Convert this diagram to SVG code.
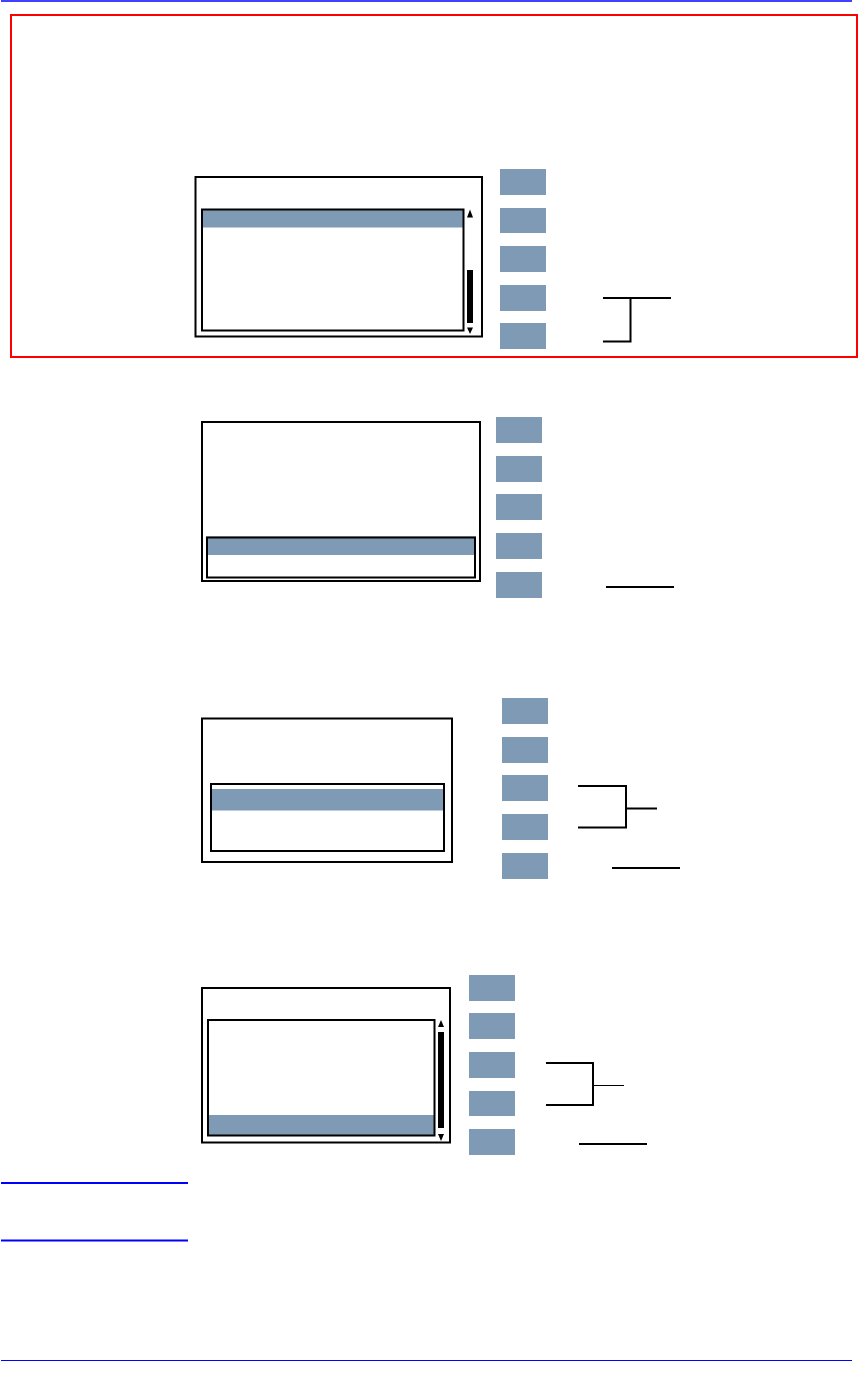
<svg xmlns="http://www.w3.org/2000/svg" width="859" height="1378" viewBox="0 0 859 1378">
<style>
.btn{fill:#7f9ab4}
.hl{fill:#7f9ab4}
.box{fill:none;stroke:#000;stroke-width:2}
.ln{fill:none;stroke:#000;stroke-width:2}
.blue{stroke:#0000ff;fill:none}
</style>
<rect width="859" height="1378" fill="#fff"/>
<line class="blue" x1="1" y1="1" x2="852" y2="1" stroke-width="1.5"/>
<line class="blue" x1="1" y1="1360.5" x2="852" y2="1360.5" stroke-width="1.2"/>
<line class="blue" x1="1" y1="1183" x2="188" y2="1183" stroke-width="1.8"/>
<line class="blue" x1="1" y1="1240.5" x2="188" y2="1240.5" stroke-width="1.8"/>
<rect x="11" y="15" width="846" height="342" fill="none" stroke="#ff0000" stroke-width="2"/>

<g id="screen1">
<rect class="box" x="195.5" y="177" width="286.5" height="159.5"/>
<rect class="hl" x="202" y="209.5" width="261.5" height="18"/>
<rect class="box" x="202" y="209.5" width="261.5" height="121"/>
<polygon points="467,217.5 470,209.5 473,217.5" fill="#000"/>
<rect x="467" y="270" width="6" height="53" fill="#000"/>
<polygon points="467,327.5 470,334 473,327.5" fill="#000"/>
</g>
<g id="buttons1">
<rect class="btn" x="500" y="169" width="46" height="26"/>
<rect class="btn" x="500" y="208" width="46" height="25"/>
<rect class="btn" x="500" y="246" width="46" height="26"/>
<rect class="btn" x="500" y="285" width="46" height="26"/>
<rect class="btn" x="500" y="323" width="46" height="26"/>
</g>

<g id="screen2">
<rect class="box" x="202" y="422" width="278" height="159"/>
<rect class="hl" x="206" y="536.5" width="270" height="18.5"/>
<rect class="box" x="207" y="537.5" width="268" height="40"/>
</g>
<g id="buttons2">
<rect class="btn" x="496" y="417" width="46" height="26"/>
<rect class="btn" x="496" y="456" width="46" height="26"/>
<rect class="btn" x="496" y="494" width="46" height="26"/>
<rect class="btn" x="496" y="533" width="46" height="26"/>
<rect class="btn" x="496" y="572" width="46" height="26"/>
</g>

<g id="screen3">
<rect class="box" x="202" y="718.5" width="250" height="143.5" stroke-width="1.6"/>
<rect class="hl" x="211" y="789" width="232.5" height="21.5"/>
<rect class="box" x="211" y="784" width="233" height="67" stroke-width="1.6"/>
</g>
<g id="buttons3">
<rect class="btn" x="502" y="698" width="46" height="26"/>
<rect class="btn" x="502" y="737" width="46" height="26"/>
<rect class="btn" x="502" y="775" width="46" height="26"/>
<rect class="btn" x="502" y="814" width="46" height="26"/>
<rect class="btn" x="502" y="853" width="46" height="26"/>
</g>

<g id="screen4">
<rect class="box" x="202" y="988" width="248" height="154.5"/>
<rect class="hl" x="208" y="1115" width="226.5" height="20.5"/>
<rect class="box" x="208" y="1020" width="226.5" height="115.5"/>
<polygon points="438,1027 441,1020 444,1027" fill="#000"/>
<rect x="438" y="1032" width="6" height="96" fill="#000"/>
<polygon points="438,1134 441,1141 444,1134" fill="#000"/>
</g>
<g id="buttons4">
<rect class="btn" x="469" y="975" width="46" height="26"/>
<rect class="btn" x="469" y="1013" width="46" height="26"/>
<rect class="btn" x="469" y="1052" width="46" height="26"/>
<rect class="btn" x="469" y="1091" width="46" height="25"/>
<rect class="btn" x="469" y="1129" width="46" height="26"/>
</g>

<g id="connectors">
<polyline class="ln" points="603,298 671,298"/>
<polyline class="ln" points="603,341.5 630.5,341.5 630.5,298"/>
<line class="ln" x1="606" y1="587" x2="674" y2="587"/>
<polyline class="ln" points="578,786 626,786 626,827.5 578,827.5"/>
<line class="ln" x1="626" y1="808.5" x2="657" y2="808.5"/>
<line class="ln" x1="612" y1="868" x2="680" y2="868"/>
<polyline class="ln" points="546,1063 593,1063 593,1105 546,1105"/>
<line x1="593" y1="1085.5" x2="624" y2="1085.5" stroke="#000" stroke-width="1"/>
<line class="ln" x1="579" y1="1144" x2="647" y2="1144"/>
</g>
</svg>
